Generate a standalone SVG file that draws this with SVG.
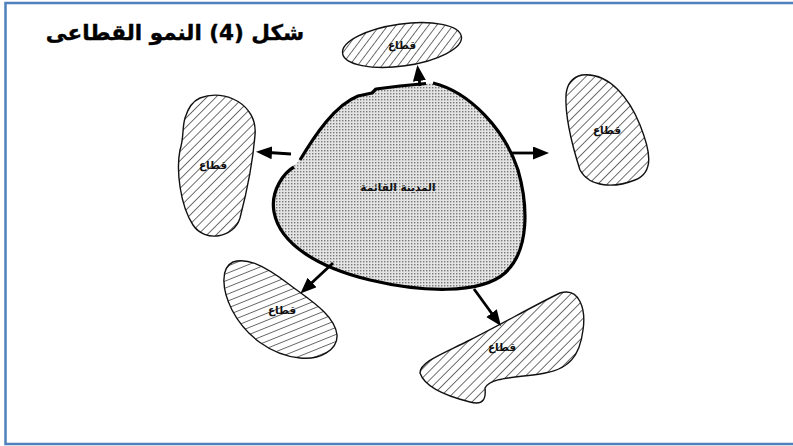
<svg xmlns="http://www.w3.org/2000/svg" width="793" height="446" viewBox="0 0 793 446">
<style>
.sector{stroke:#111;stroke-width:1.4}
.lbl{font-family:"DejaVu Sans",sans-serif;font-weight:bold;font-size:10.5px;fill:#111;text-anchor:middle}
.arrow{stroke:#000;stroke-width:2.8;fill:none;marker-end:url(#ah)}
</style>
<defs>
<pattern id="hatch" patternUnits="userSpaceOnUse" width="6.5" height="6.5" patternTransform="rotate(45)">
<rect width="6.5" height="6.5" fill="#fff"/>
<line x1="0" y1="0" x2="0" y2="6.5" stroke="#222" stroke-width="1.3"/>
</pattern>
<pattern id="hatch2" patternUnits="userSpaceOnUse" width="6.5" height="6.5" patternTransform="rotate(68)">
<rect width="6.5" height="6.5" fill="#fff"/>
<line x1="0" y1="0" x2="0" y2="6.5" stroke="#222" stroke-width="1.3"/>
</pattern>
<pattern id="dots" patternUnits="userSpaceOnUse" width="3" height="3">
<rect width="3" height="3" fill="#e4e4e4"/>
<rect width="1.4" height="1.4" fill="#777"/>
</pattern>
<marker id="ah" markerUnits="userSpaceOnUse" markerWidth="18" markerHeight="14" refX="11" refY="6.5" orient="auto">
<path d="M0,0 L16,6.5 L0,13 Z" fill="#000"/>
</marker>
</defs>
<rect x="5.5" y="3" width="800" height="441" fill="#fff" stroke="#4f81bd" stroke-width="2.5"/>
<text x="175" y="40" font-family="DejaVu Sans,sans-serif" font-weight="bold" font-size="21.5" text-anchor="middle" fill="#000" stroke="#000" stroke-width="0.4">شكل (4) النمو القطاعى</text>

<g id="city">
<path d="M433,83 C470,92 505,130 518,170 C528,205 530,250 505,273 C480,295 420,292 370,280 C320,268 280,245 274,212 C270,190 285,172 297,163 C315,135 335,105 358,96 L372,93 L376,89 L400,86 Z" fill="url(#dots)"/>
<path d="M433,83 C470,92 505,130 518,170 C528,205 530,250 505,273 C480,295 420,292 370,280 C320,268 280,245 274,212 C270,190 285,172 294,167 M300,160 C315,135 335,105 358,96 L372,93 L376,89 L400,86 L426,83.5" fill="none" stroke="#000" stroke-width="3.2" stroke-linejoin="round"/>
<text class="lbl" x="398" y="191" font-weight="normal">المدينة القائمة</text>
</g>

<g id="sector-top">
<ellipse class="sector" cx="402" cy="45" rx="60" ry="21" transform="rotate(-8 402 45)" fill="url(#hatch)"/>
<text class="lbl" x="402" y="49">قطاع</text>
</g>
<g id="sector-left">
<path class="sector" d="M200,98 C225,88 258,105 255,135 C253,160 246,195 240,218 C234,238 205,243 193,225 C180,205 176,170 180,150 C184,138 182,128 185,118 C188,108 193,101 200,98 Z" fill="url(#hatch)"/>
<text class="lbl" x="213" y="169">قطاع</text>
</g>
<g id="sector-right">
<path class="sector" d="M582,75 C610,72 630,100 640,125 C650,150 655,172 635,180 C615,188 590,188 580,170 C572,145 565,115 566,95 C567,83 573,77 582,75 Z" fill="url(#hatch)"/>
<text class="lbl" x="607" y="134">قطاع</text>
</g>
<g id="sector-lower-left">
<path class="sector" d="M233,262 C245,258 260,262 290,285 C310,300 335,315 337,335 C338,350 320,360 300,358 C270,355 245,335 232,310 C222,290 220,268 233,262 Z" fill="url(#hatch2)"/>
<text class="lbl" x="282" y="314">قطاع</text>
</g>
<g id="sector-lower-right">
<path class="sector" d="M560,293 C580,287 586,310 583,330 C580,355 570,370 540,374 C510,378 490,378 485,388 C486,398 484,406 470,402 C450,397 425,388 420,373 C420,362 440,355 470,340 C500,325 535,305 560,293 Z" fill="url(#hatch)"/>
<text class="lbl" x="502" y="351">قطاع</text>
</g>

<g id="connectors">
<line class="arrow" x1="420" y1="86" x2="418" y2="70"/>
<line class="arrow" x1="512" y1="153" x2="544" y2="153"/>
<line class="arrow" x1="291" y1="154" x2="261" y2="152"/>
<line class="arrow" x1="333" y1="263" x2="304" y2="290"/>
<line class="arrow" x1="474" y1="289" x2="498" y2="322"/>
</g>
</svg>
